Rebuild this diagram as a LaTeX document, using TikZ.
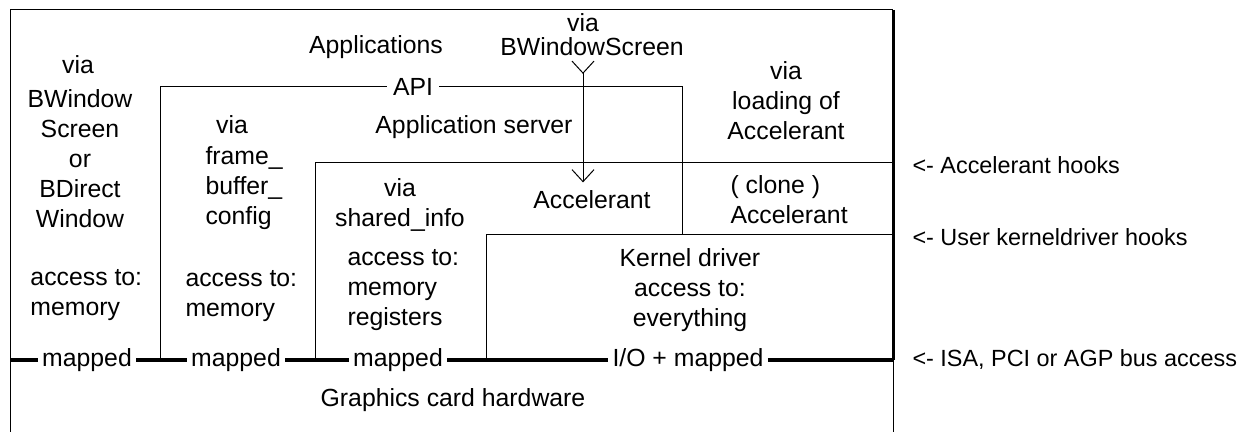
\documentclass[tikz,border=0pt]{standalone}
\usepackage{fontspec}
\setmainfont{Liberation Sans}
\usetikzlibrary{arrows.meta}

\begin{document}
\begin{tikzpicture}[x=0.5pt,y=-0.5pt,line width=0.5pt,
  every node/.style={font=\fontsize{12.4}{15}\selectfont,inner sep=0pt},
  lbl/.style={align=left,anchor=west},
  ctr/.style={align=center},
  tap/.style={inner xsep=2pt},
  hook/.style={lbl,font=\fontsize{11.7}{15}\selectfont},
  bus/.style={line width=2.2pt},
  barb/.style={{Straight Barb[reversed,length=6pt,width=11pt]}-{Straight Barb[length=6pt,width=11pt]}}]
  \useasboundingbox (0,0) rectangle (1250,432);
  \coordinate (tl) at (10,10);
  \coordinate (tr) at (893,10);
  \coordinate (bl) at (10,432);
  \coordinate (br) at (893,432);
  \coordinate (busl) at (10,360);
  \coordinate (busr) at (893,360);
  \coordinate (apil) at (160,87);
  \coordinate (apir) at (682,87);
  \coordinate (apib) at (682,235);
  \coordinate (srvl) at (315,163);
  \coordinate (srvr) at (893,163);
  \coordinate (krnl) at (486,235);
  \coordinate (krnr) at (893,235);

  \node (via) at (583,23) {via};
  \node (bws) at (592,47) {BWindowScreen};
  \node (apps) at (376,47) {Applications};
  \node[tap,inner xsep=3pt] (api) at (413,87) {API};
  \node (srv) at (474,127) {Application server};
  \node (acc) at (592,200) {Accelerant};
  \node[ctr] (load) at (786,101) {via\\loading of\\Accelerant};
  \node[lbl] (clone) at (730,200) {( clone )\\Accelerant};
  \node[ctr] (shinfo) at (400,205) {via\\shared\_info};
  \node[lbl] (accreg) at (347,290) {access to:\\memory\\registers};
  \node[ctr] (kernel) at (690,290) {Kernel driver\\access to:\\everything};
  \node (vianw) at (78,65) {via};
  \node[ctr] (bdw) at (80,159) {BWindow\\Screen\\or\\BDirect\\Window};
  \node[lbl] (accmema) at (30,295) {access to:\\memory};
  \node (viafb) at (232,125) {via};
  \node[lbl] (fbcfg) at (205,188) {frame\_\\buffer\_\\config};
  \node[lbl] (accmemb) at (185,296) {access to:\\memory};
  \node[tap] (mapa) at (87,360) {mapped};
  \node[tap] (mapb) at (236,360) {mapped};
  \node[tap] (mapc) at (398,360) {mapped};
  \node[tap] (mapio) at (688,360) {I/O + mapped};
  \node (hw) at (453,400) {Graphics card hardware};
  \node[hook] (hooka) at (912,165) {<- Accelerant hooks};
  \node[hook] (hookk) at (912,237) {<- User kerneldriver hooks};
  \node[hook] (hookb) at (912,360) {<- ISA, PCI or AGP bus access};

  \draw (tl) -- (bl) (tl) -- (tr) (busr) -- (br);
  \draw[line width=1.5pt] (tr) -- (busr);
  \draw (api) -- (apil) -- (apil |- busl);
  \draw (api) -- (apir) -- (apib);
  \draw (srvl |- busl) -- (srvl) -- (srvr);
  \draw (krnl |- busl) -- (krnl) -- (krnr);
  \draw[bus] (busl) -- (mapa) (mapa) -- (mapb) (mapb) -- (mapc) (mapc) -- (mapio) (mapio) -- (busr);
  \draw[barb] ([yshift=-2pt]bws.south -| via) -- ([yshift=4pt]acc.north -| via);
\end{tikzpicture}
\end{document}
